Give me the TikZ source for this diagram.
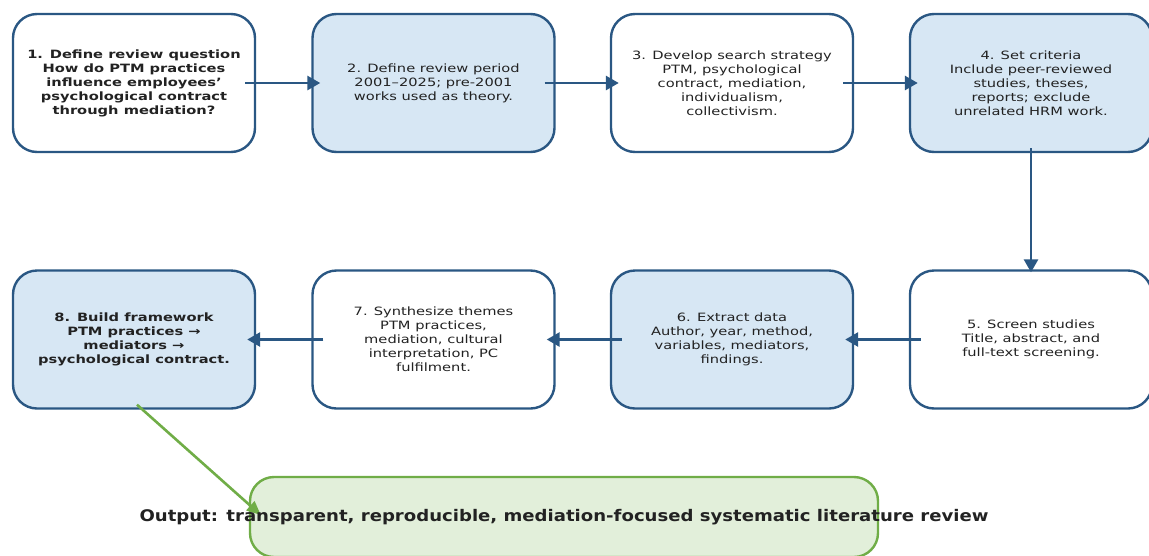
\documentclass[tikz,border=0pt]{standalone}
\usepackage{fontspec}
\setmainfont{DejaVu Sans}
\newfontfamily\boxfont{DejaVu Sans}[FakeStretch=1.28]
\newfontfamily\outfont{DejaVu Sans}[FakeStretch=1.13]
\usetikzlibrary{arrows.meta,calc}
\definecolor{edgeblue}{HTML}{2A5783}
\definecolor{fillblue}{HTML}{D7E7F4}
\definecolor{edgegreen}{HTML}{70AD47}
\definecolor{fillgreen}{HTML}{E2EFDA}
\definecolor{txt}{HTML}{222222}
\tikzset{
  stepbox/.style={draw=edgeblue, line width=2.4pt, rounded corners=24pt,
    minimum width=242pt, minimum height=138pt, align=center, text=txt,
    font=\boxfont\fontsize{11.45}{14}\selectfont, inner sep=0pt},
  bluefill/.style={fill=fillblue},
  whitefill/.style={fill=white},
  flow/.style={draw=edgeblue, line width=2.8pt, -{Triangle[length=13pt,width=14pt]}},
  outbox/.style={draw=edgegreen, fill=fillgreen, line width=2.4pt, rounded corners=24pt,
    minimum width=628pt, minimum height=80pt, inner sep=0pt},
  greenflow/.style={draw=edgegreen, line width=2.6pt, -{Triangle[length=14pt,width=12pt]}}
}
\begin{document}
\begin{tikzpicture}[x=1pt,y=-1pt]
\useasboundingbox (0,0) rectangle (1149,555);
\clip (0,0) rectangle (1149,555);
\node[stepbox,whitefill] (b1) at (134,83) {\bfseries 1. Define review question\\\bfseries How do PTM practices\\\bfseries influence employees’\\\bfseries psychological contract\\\bfseries through mediation?};
\node[stepbox,bluefill] (b2) at (433.5,83) {2. Define review period\\2001–2025; pre-2001\\works used as theory.};
\node[stepbox,whitefill] (b3) at (732,83) {3. Develop search strategy\\PTM, psychological\\contract, mediation,\\individualism,\\collectivism.};
\node[stepbox,bluefill] (b4) at (1031,83) {4. Set criteria\\Include peer-reviewed\\studies, theses,\\reports; exclude\\unrelated HRM work.};
\node[stepbox,whitefill] (b5) at (1031,339.5) {5. Screen studies\\Title, abstract, and\\full-text screening.};
\node[stepbox,bluefill] (b6) at (732,339.5) {6. Extract data\\Author, year, method,\\variables, mediators,\\findings.};
\node[stepbox,whitefill] (b7) at (433.5,339.5) {7. Synthesize themes\\PTM practices,\\mediation, cultural\\interpretation, PC\\fulfilment.};
\node[stepbox,bluefill] (b8) at (134,339.5) {\bfseries 8. Build framework\\\bfseries PTM practices →\\\bfseries mediators →\\\bfseries psychological contract.};
\node[outbox] (out) at (564,517) {};
\draw[flow] ($(b1.east)+(-11,0)$) -- ($(b2.west)+(9,0)$);
\draw[flow] ($(b2.east)+(-11,0)$) -- ($(b3.west)+(9,0)$);
\draw[flow] ($(b3.east)+(-11,0)$) -- ($(b4.west)+(9,0)$);
\draw[flow] ($(b4.south)+(0,-5)$) -- ($(b5.north)+(0,3)$);
\draw[flow] ($(b5.west)+(12,0)$) -- ($(b6.east)+(-9,0)$);
\draw[flow] ($(b6.west)+(12,0)$) -- ($(b7.east)+(-9,0)$);
\draw[flow] ($(b7.west)+(12,0)$) -- ($(b8.east)+(-9,0)$);
\draw[greenflow] ($(b8.south)+(3,-5)$) -- ($(out.west)+(12,-2)$);
\node[text=txt, font=\outfont\fontsize{16}{19}\selectfont\bfseries] (outtext) at (out.center) {Output: transparent, reproducible, mediation-focused systematic literature review};
\end{tikzpicture}
\end{document}
